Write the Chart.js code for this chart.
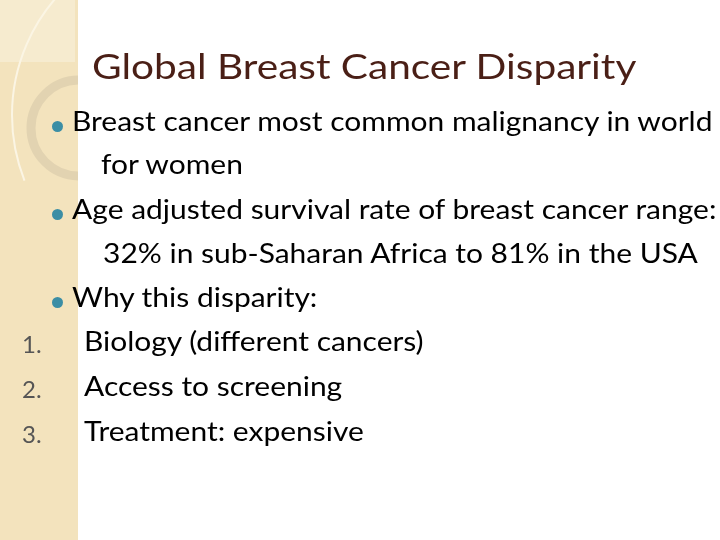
<!DOCTYPE html>
<html><head><meta charset="utf-8">
<script src="https://cdn.jsdelivr.net/npm/chart.js"></script>
<style>
body{margin:0;width:720px;height:540px;overflow:hidden;background:#fff;font-family:Lato,"Open Sans",sans-serif;}
#c{position:absolute;left:0;top:0;}
#t{position:absolute;left:0;top:0;width:720px;height:540px;}
.title{position:absolute;font-size:35px;color:#4a1f16;white-space:nowrap;transform:scaleX(1.16);transform-origin:left top;}
.l{position:absolute;font-size:27px;color:#000;white-space:nowrap;transform:scaleX(1.11);transform-origin:left top;}
.dot{position:absolute;width:11px;height:11px;border-radius:50%;background:#3b8ea5;}
.n{position:absolute;font-size:24px;color:#555;}
</style></head><body>
<div id="c" style="width:720px;height:540px"><canvas id="cv"></canvas></div>
<div id="t"></div>
<script>
const title = "Global Breast Cancer Disparity";
const bullets = ["Breast cancer most common malignancy in world","Age adjusted survival rate of breast cancer range:","Why this disparity:"];
const continuations = ["for women","32% in sub-Saharan Africa to 81% in the USA"];
const numbered = ["Biology (different cancers)","Access to screening","Treatment: expensive"];
const numLabels = ["1.","2.","3."];

const t=document.getElementById('t');
function add(cls,txt,x,y){const d=document.createElement('div');d.className=cls;if(txt!==null)d.textContent=txt;d.style.left=x+'px';d.style.top=y+'px';t.appendChild(d);return d;}
add('title',title,92,44);
const rows=[[bullets[0],104],[continuations[0],147,true],[bullets[1],192],[continuations[1],236,true],[bullets[2],280]];
rows.forEach((r,i)=>{
  if(r[2]) add('l',r[0],i===1?101:103,r[1]);
  else {add('dot',null,52,r[1]+17);add('l',r[0],72,r[1]);}
});
numbered.forEach((s,i)=>{const y=324+i*45;add('n',numLabels[i],22,y+5);add('l',s,84,y);});

const deco={id:'deco',beforeDraw(ch){const c=ch.ctx;c.save();
  c.fillStyle='#fff';c.fillRect(0,0,720,540);
  c.fillStyle='#f3e3bd';c.fillRect(0,0,78,540);
  c.fillStyle='#f6ebcf';c.fillRect(0,0,75,62);
  c.beginPath();c.rect(0,0,78,540);c.clip();
  c.strokeStyle='#fbf5e4';c.lineWidth=2;c.beginPath();c.arc(190,115,178,Math.PI*0.88,Math.PI*1.55);c.stroke();
  c.strokeStyle='#e2d3b1';c.lineWidth=9;c.beginPath();c.arc(79,128,48,0,Math.PI*2);c.stroke();
  c.restore();}};
new Chart(document.getElementById('cv'),{type:'scatter',data:{datasets:[{data:[]}]},
 options:{responsive:true,maintainAspectRatio:false,animation:false,events:[],
 plugins:{legend:{display:false},tooltip:{enabled:false}},
 scales:{x:{display:false},y:{display:false}}},plugins:[deco]});
</script></body></html>
